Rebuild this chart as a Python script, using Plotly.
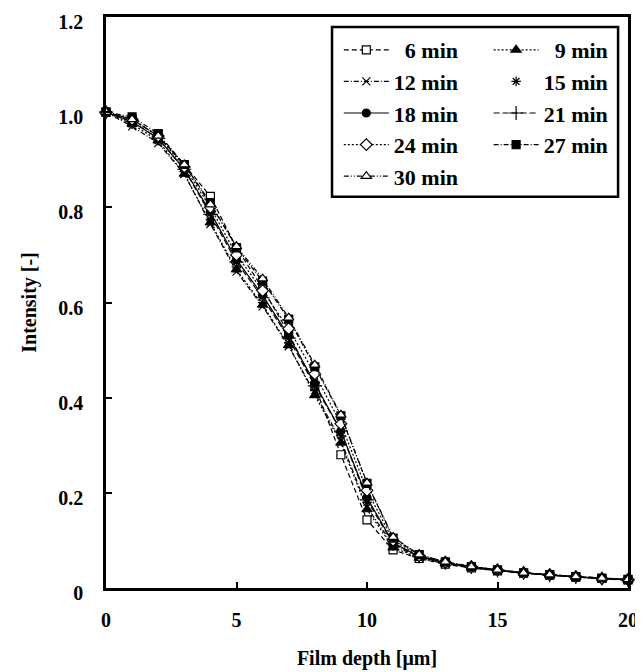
import plotly.graph_objects as go

depth = list(range(0, 21))

s6 = [1.0, 0.985, 0.95, 0.89, 0.823, 0.715, 0.63, 0.535, 0.425, 0.28, 0.143, 0.08, 0.062, 0.05, 0.042, 0.036, 0.031, 0.027, 0.023, 0.02, 0.017]
s9 = [1.0, 0.975, 0.94, 0.87, 0.768, 0.669, 0.595, 0.51, 0.405, 0.305, 0.165, 0.085, 0.063, 0.051, 0.043, 0.037, 0.031, 0.027, 0.023, 0.02, 0.017]
s12 = [1.0, 0.97, 0.935, 0.87, 0.765, 0.665, 0.592, 0.508, 0.41, 0.31, 0.17, 0.09, 0.064, 0.052, 0.043, 0.037, 0.031, 0.027, 0.023, 0.02, 0.016]
s15 = [1.0, 0.975, 0.94, 0.875, 0.775, 0.675, 0.60, 0.515, 0.415, 0.32, 0.18, 0.09, 0.065, 0.052, 0.044, 0.037, 0.031, 0.027, 0.023, 0.02, 0.017]
s18 = [1.0, 0.98, 0.945, 0.88, 0.79, 0.69, 0.615, 0.53, 0.43, 0.33, 0.19, 0.095, 0.066, 0.053, 0.044, 0.037, 0.032, 0.027, 0.023, 0.02, 0.017]
s21 = [1.0, 0.98, 0.945, 0.88, 0.785, 0.685, 0.61, 0.525, 0.425, 0.33, 0.185, 0.093, 0.066, 0.053, 0.044, 0.037, 0.032, 0.027, 0.023, 0.02, 0.017]
s24 = [1.0, 0.985, 0.95, 0.885, 0.80, 0.70, 0.625, 0.545, 0.45, 0.345, 0.205, 0.10, 0.068, 0.054, 0.045, 0.038, 0.032, 0.028, 0.024, 0.02, 0.018]
s27 = [1.0, 0.99, 0.955, 0.89, 0.81, 0.715, 0.645, 0.565, 0.465, 0.362, 0.22, 0.105, 0.07, 0.055, 0.045, 0.038, 0.032, 0.028, 0.024, 0.021, 0.018]
s30 = [1.0, 0.985, 0.95, 0.89, 0.806, 0.718, 0.65, 0.568, 0.469, 0.364, 0.221, 0.107, 0.07, 0.055, 0.045, 0.038, 0.032, 0.028, 0.024, 0.021, 0.018]

series_names = ["6 min", "9 min", "12 min", "15 min", "18 min", "21 min", "24 min", "27 min", "30 min"]
series_values = [s6, s9, s12, s15, s18, s21, s24, s27, s30]

x_tickvals = [0, 5, 10, 15, 20]
x_ticktext = ["0", "5", "10", "15", "20"]
y_tickvals = [0, 0.2, 0.4, 0.6, 0.8, 1.0, 1.2]
y_ticktext = ["0", "0.2", "0.4", "0.6", "0.8", "1.0", "1.2"]

FONT = "Liberation Serif"

# style per series: (symbol, fill, size, dash, mode, legend)
styles = [
    ("square", "white", 8, "5px,3px", "lines+markers", "legend"),
    ("triangle-up", "black", 9, "2px,2px", "lines+markers", "legend2"),
    ("x-thin", "black", 8, "5px,2px,1px,2px", "lines+markers", "legend"),
    ("asterisk", "black", 8, "solid", "markers", "legend2"),
    ("circle", "black", 8, "solid", "lines+markers", "legend"),
    ("cross-thin", "black", 10, "6px,3px", "lines+markers", "legend2"),
    ("diamond", "white", 9, "2px,2px", "lines+markers", "legend"),
    ("square", "black", 8, "5px,2px,1px,2px", "lines+markers", "legend2"),
    ("triangle-up", "white", 9, "5px,2px,1px,2px,1px,2px", "lines+markers", "legend"),
]

fig = go.Figure()
for name, vals, st in zip(series_names, series_values, styles):
    sym, fill, size, dash, mode, leg = st
    label = name if len(name.split()[0]) == 2 else "\u00a0\u00a0" + name
    fig.add_trace(go.Scatter(
        x=depth, y=vals, mode=mode, name=label, legend=leg,
        legendgroup=name,
        line=dict(color="black", width=1.2, dash=dash),
        marker=dict(symbol=sym, size=size, color=fill,
                    line=dict(color="black", width=1.2)),
        cliponaxis=False,
    ))

legend_font = dict(size=22, family=FONT, weight="bold", color="black")
fig.update_layout(
    width=635, height=664,
    margin=dict(l=98, r=15, t=9, b=84),
    paper_bgcolor="white", plot_bgcolor="white",
    font=dict(family=FONT, size=20, color="black", weight="bold"),
    legend=dict(x=0.446, y=0.979, xanchor="left", yanchor="top",
                bgcolor="rgba(0,0,0,0)", borderwidth=0, itemwidth=45,
                tracegroupgap=0, font=legend_font),
    legend2=dict(x=0.733, y=0.979, xanchor="left", yanchor="top",
                 bgcolor="rgba(0,0,0,0)", borderwidth=0, itemwidth=45,
                 tracegroupgap=0, font=legend_font),
    shapes=[dict(type="rect", xref="paper", yref="paper",
                 x0=0.433, x1=0.981, y0=0.685, y1=0.9825,
                 line=dict(color="black", width=2.5),
                 fillcolor="rgba(0,0,0,0)", layer="above")],
)

fig.update_xaxes(
    range=[0, 20], tickvals=x_tickvals, ticktext=x_ticktext, automargin=False,
    showline=True, linecolor="black", linewidth=2.5, mirror=True,
    ticks="inside", ticklen=6, tickwidth=1.5, tickcolor="black",
    showgrid=False, zeroline=False, ticklabelstandoff=12,
    ticklabeloverflow="allow",
    tickfont=dict(size=20, family=FONT, weight="bold", color="black"),
    title=dict(text="Film depth [μm]", standoff=22,
               font=dict(size=20, family=FONT, weight="bold", color="black")),
)
fig.update_yaxes(
    range=[0, 1.2], tickvals=y_tickvals, ticktext=y_ticktext, automargin=False,
    showline=True, linecolor="black", linewidth=2.5, mirror=True,
    ticks="inside", ticklen=6, tickwidth=1.5, tickcolor="black",
    showgrid=False, zeroline=False, ticklabelstandoff=16, ticklabelshift=5,
    ticklabeloverflow="allow",
    tickfont=dict(size=20, family=FONT, weight="bold", color="black"),
    title=dict(text="Intensity [-]", standoff=17,
               font=dict(size=20, family=FONT, weight="bold", color="black")),
)

fig.write_html("out.html")
